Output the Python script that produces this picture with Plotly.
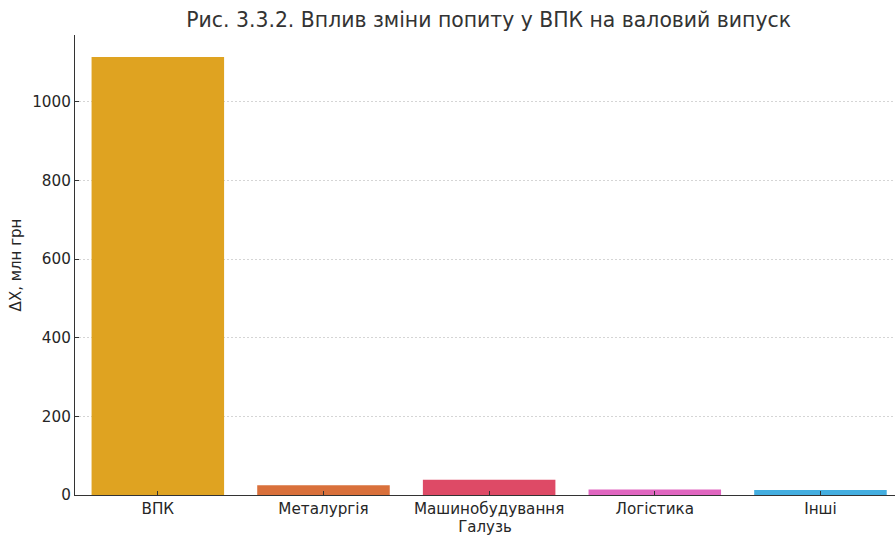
import plotly.graph_objects as go

categories = ["ВПК", "Металургія", "Машинобудування", "Логістика", "Інші"]
values = [1114, 25, 39, 14, 13]
colors = ["#DFA321", "#D9703B", "#DE4A66", "#E066C0", "#44AEE0"]

fig = go.Figure(go.Bar(x=categories, y=values, marker=dict(color=colors, line=dict(width=0)), width=0.8))

fig.update_layout(
    width=895, height=536,
    margin=dict(l=75, r=0, t=35, b=41),
    paper_bgcolor="white", plot_bgcolor="white",
    font=dict(family="DejaVu Sans", size=15.2, color="#262626"),
    title=dict(text="Рис. 3.3.2. Вплив зміни попиту у ВПК на валовий випуск",
               x=0.546, xanchor="center", y=0.963, yanchor="middle",
               font=dict(size=20.4, color="#333333")),
    showlegend=False,
)
fig.update_xaxes(range=[-0.5, 4.45], showline=True, linecolor="#333333", linewidth=1.2,
                 ticks="inside", ticklen=4, tickcolor="#333333", showgrid=False,
                 title=dict(text="Галузь", standoff=2, font=dict(size=15)))
fig.update_yaxes(range=[0, 1170], showline=True, linecolor="#333333", linewidth=1.2,
                 tickvals=[0, 200, 400, 600, 800, 1000], ticks="inside", ticklen=4,
                 tickcolor="#333333", showgrid=True,
                 gridcolor="#d5d5d5", griddash="2px,2px", gridwidth=0.8, zeroline=False,
                 title=dict(text="ΔX, млн грн", standoff=6, font=dict(size=15)))

fig.write_html("out.html", config={"displayModeBar": False},
               post_script="document.body.style.margin='0';document.body.style.overflow='hidden';")
